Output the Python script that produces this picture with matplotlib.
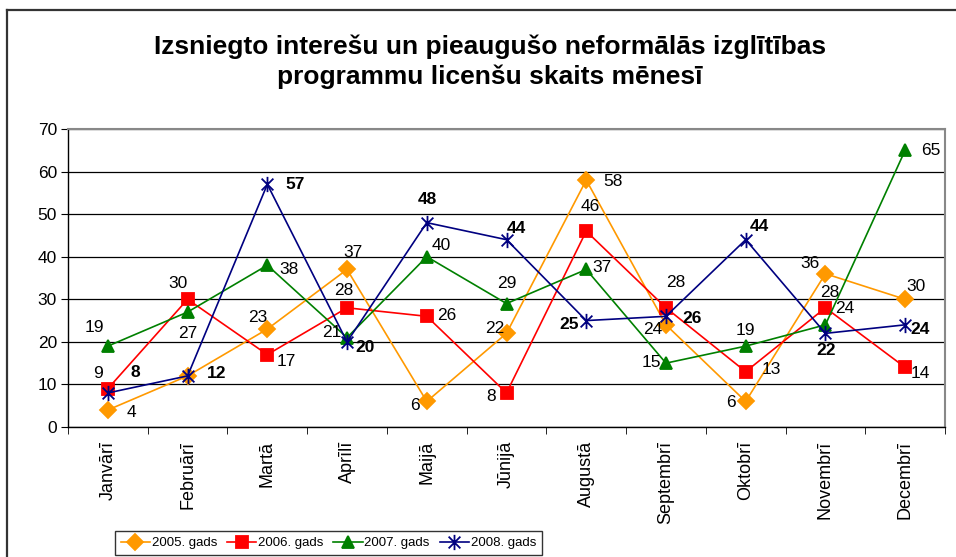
import matplotlib
matplotlib.use('Agg')
import matplotlib.pyplot as plt
from matplotlib.lines import Line2D
from matplotlib.path import Path
import numpy as np

plt.rcParams['font.family'] = ['Liberation Sans', 'DejaVu Sans']

months = ['Janvārī', 'Februārī', 'Martā', 'Aprīlī', 'Maijā', 'Jūnijā',
          'Augustā', 'Septembrī', 'Oktobrī', 'Novembrī', 'Decembrī']
y2005 = [4, 12, 23, 37, 6, 22, 58, 24, 6, 36, 30]
y2006 = [9, 30, 17, 28, 26, 8, 46, 28, 13, 28, 14]
y2007 = [19, 27, 38, 21, 40, 29, 37, 15, 19, 24, 65]
y2008 = [8, 12, 57, 20, 48, 44, 25, 26, 44, 22, 24]
names = ['2005. gads', '2006. gads', '2007. gads', '2008. gads']
title = 'Izsniegto interešu un pieaugušo neformālās izglītības\nprogrammu licenšu skaits mēnesī'

# label offsets in pixels (dx, dy), None = label hidden
off2005 = [(24, -3), None, (-10, 12), (6, 17), (-12, -4), (-12, 5),
           (27, -1), (-13, -5), (-15, -1), (-15, 10), (11, 13)]
off2006 = [(-10, 15), (-10, 16), (19, -7), (-3, 17), (20, 1), (-15, -4),
           (4, 25), (10, 25), (26, 2), (4, 15), (15, -6)]
off2007 = [(-13, 19), (0, -21), (22, -4), (-15, 5), (14, 11), (0, 20),
           (16, 2), (-15, 1), (0, 16), (19, 16), (26, 0)]
off2008 = [(27, 20), (29, 2), (28, 0), (18, -6), (1, 23), (10, 11),
           (-17, -4), (26, -2), (14, 13), (1, -17), (15, -5)]

star = Path([(-1, -1), (1, 1), (-1, 1), (1, -1), (0, -1.3), (0, 1.3)],
            [Path.MOVETO, Path.LINETO, Path.MOVETO, Path.LINETO, Path.MOVETO, Path.LINETO])

series = [
    (y2005, off2005, '#FF9900', 'D', 8, 'normal'),
    (y2006, off2006, '#FF0000', 's', 8, 'normal'),
    (y2007, off2007, '#008000', '^', 9, 'normal'),
    (y2008, off2008, '#000080', star, 11, 'bold'),
]

fig = plt.figure(figsize=(9.56, 5.57), dpi=100)
ax = fig.add_axes([68/956, 1-427/557, (945-68)/956, (427-129)/557])

x = np.arange(len(months))
for (vals, offs, col, mk, ms, fw), name in zip(series, names):
    ax.plot(x, vals, color=col, lw=1.2, marker=mk, ms=ms, mec=col, mfc=col,
            mew=1.3, label=name, clip_on=False)
    for xi, v, o in zip(x, vals, offs):
        if o is None:
            continue
        ax.annotate(str(v), (xi, v), xytext=o, textcoords='offset pixels',
                    ha='center', va='center', fontsize=12.5, fontweight=fw, color='black')

ax.set_xlim(-0.5, len(months) - 0.5)
ax.set_ylim(0, 70)
ax.set_yticks(np.arange(0, 71, 10))
ax.set_xticks(x)
ax.set_xticklabels(months, rotation=90, fontsize=13)
ax.set_xticks(np.arange(-0.5, len(months), 1), minor=True)
ax.tick_params(axis='x', which='major', length=0, pad=10)
ax.tick_params(axis='x', which='minor', length=5, direction='out', color='black')
ax.tick_params(axis='y', length=5, direction='out', labelsize=12.5, pad=3)

# grid
ax.grid(axis='y', color='black', lw=0.9)
ax.set_axisbelow(True)
for s in ['top', 'right']:
    ax.spines[s].set_color('#888888')
    ax.spines[s].set_linewidth(1.5)
for s in ['left', 'bottom']:
    ax.spines[s].set_color('black')
    ax.spines[s].set_linewidth(1.0)

fig.text(490/956, 1-62/557, title, ha='center', va='center', fontsize=19,
         fontweight='bold', linespacing=1.28)

leg = ax.legend(loc='upper left', bbox_to_anchor=(115/956, 1-531/557),
                bbox_transform=fig.transFigure, ncol=4, borderaxespad=0,
                frameon=True, fancybox=False, edgecolor='black',
                handlelength=2.2, columnspacing=0.75, handletextpad=0.15,
                borderpad=0.45, fontsize=9.5)
leg.get_frame().set_linewidth(1.0)

# outer chart frame
fig.add_artist(Line2D([7/956, 7/956], [0, 1-10/557], transform=fig.transFigure,
                      color='#333333', lw=1.6))
fig.add_artist(Line2D([7/956, 1], [1-10/557, 1-10/557], transform=fig.transFigure,
                      color='#333333', lw=1.6))

fig.savefig('out.png', dpi=100)
